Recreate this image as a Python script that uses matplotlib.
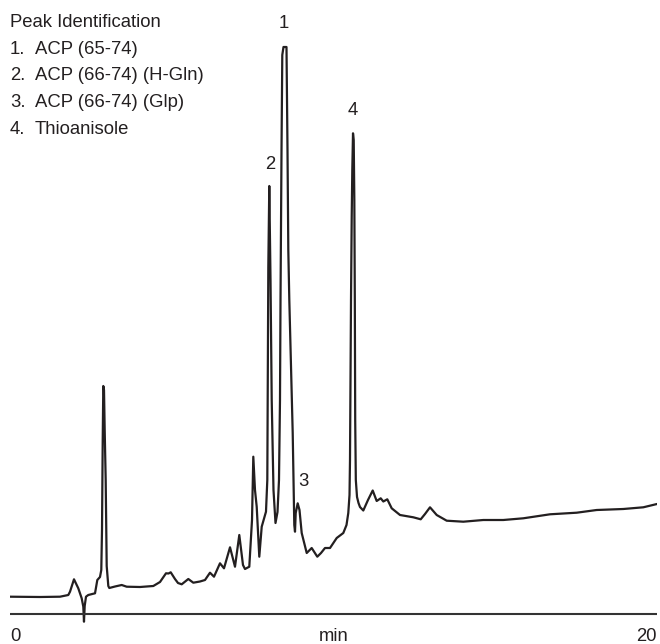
import matplotlib
matplotlib.use("Agg")
import matplotlib.pyplot as plt

# Retention time (min) and detector signal (arbitrary units)
time_min = [0.000, 0.927, 1.546, 1.731, 1.802, 1.855, 1.978, 2.111, 2.216, 2.266,
            2.287, 2.309, 2.349, 2.420, 2.628, 2.699, 2.782, 2.822, 2.844, 2.866,
            2.884, 2.906, 2.927, 2.958, 2.989, 3.039, 3.070, 3.246, 3.453, 3.607,
            4.019, 4.430, 4.637, 4.822, 4.900, 4.968, 5.100, 5.193, 5.308, 5.512,
            5.666, 5.873, 6.028, 6.182, 6.306, 6.491, 6.615, 6.801, 6.955, 7.088,
            7.202, 7.264, 7.397, 7.481, 7.521, 7.573, 7.626, 7.706, 7.781, 7.913,
            7.954, 7.966, 7.985, 8.015, 8.053, 8.090, 8.145, 8.207, 8.269, 8.315,
            8.346, 8.362, 8.393, 8.417, 8.454, 8.547, 8.578, 8.603, 8.634, 8.739,
            8.788, 8.810, 8.832, 8.893, 8.949, 9.017, 9.172, 9.326, 9.499, 9.614,
            9.737, 9.892, 10.099, 10.303, 10.402, 10.457, 10.495, 10.510, 10.526, 10.541,
            10.563, 10.581, 10.603, 10.625, 10.644, 10.659, 10.671, 10.690, 10.727, 10.773,
            10.819, 10.921, 11.066, 11.212, 11.335, 11.459, 11.540, 11.663, 11.799, 12.056,
            12.467, 12.696, 12.829, 12.983, 13.190, 13.499, 14.012, 14.631, 15.249, 15.867,
            16.692, 17.518, 18.136, 18.958, 19.576, 20.000]

signal = [17.3, 17.0, 17.3, 18.5, 19.0, 22.3, 34.7, 25.7, 15.7, 7.3,
          -7.7, 8.0, 17.3, 19.0, 20.7, 34.0, 37.0, 44.0, 84.0, 174.0,
          228.0, 224.0, 184.0, 134.0, 48.0, 28.0, 26.0, 27.5, 29.0, 27.3,
          27.0, 28.0, 32.0, 40.7, 40.5, 41.7, 35.0, 31.0, 29.7, 35.0,
          31.3, 32.5, 34.0, 41.3, 37.3, 50.7, 45.7, 66.7, 47.3, 79.0,
          49.0, 45.0, 47.3, 94.0, 157.3, 124.0, 107.3, 57.3, 87.3, 102.3,
          134.0, 214.0, 347.0, 428.0, 334.0, 214.0, 124.0, 91.0, 102.0, 134.0,
          214.0, 314.0, 464.0, 559.0, 567.0, 567.0, 464.0, 364.0, 314.0, 181.0,
          89.0, 82.3, 101.0, 110.7, 104.0, 81.0, 61.0, 66.0, 57.3, 61.0,
          66.0, 66.0, 76.0, 81.0, 89.0, 101.0, 119.0, 154.0, 234.0, 314.0,
          397.3, 444.0, 480.7, 474.0, 414.0, 314.0, 194.0, 134.0, 117.0, 111.0,
          107.0, 103.5, 114.0, 123.5, 113.0, 115.7, 112.5, 114.7, 105.7, 99.0,
          96.7, 94.7, 100.0, 106.7, 99.0, 93.3, 92.3, 94.0, 94.0, 95.7,
          99.7, 101.3, 104.0, 105.0, 106.7, 110.0]

# Peak labels (number, retention time, label height)
peak_numbers = ["1", "2", "3", "4"]
peak_label_time = [8.454, 8.037, 9.057, 10.587]
peak_label_signal = [586, 445, 128, 499]

legend_title = "Peak Identification"
legend_numbers = ["1.", "2.", "3.", "4."]
legend_names = ["ACP (65-74)", "ACP (66-74) (H-Gln)", "ACP (66-74) (Glp)", "Thioanisole"]

x_start_label = "0"
x_end_label = "20"
x_unit_label = "min"

W, H = 660, 644
ink = "#231f20"
fam = ["Liberation Sans", "DejaVu Sans"]
fs = 13.3

fig = plt.figure(figsize=(W / 100, H / 100), dpi=100)
ax = fig.add_axes([10 / W, 0, 647 / W, 1])
ax.set_xlim(0, 20)
ax.set_ylim(-30, 614)
ax.axis("off")

ax.plot(time_min, signal, color=ink, lw=1.6, solid_joinstyle="round", solid_capstyle="round")
ax.axhline(0, color="#333333", lw=1.5)

for n, t, s in zip(peak_numbers, peak_label_time, peak_label_signal):
    ax.text(t, s, n, ha="center", va="baseline", fontsize=fs, family=fam, color=ink)

ax.text(0, -27, x_start_label, ha="left", va="baseline", fontsize=fs, family=fam, color=ink)
ax.text(20, -27, x_end_label, ha="right", va="baseline", fontsize=fs, family=fam, color=ink)
ax.text(10, -27, x_unit_label, ha="center", va="baseline", fontsize=fs, family=fam, color=ink)

def fx(px):
    return px / W

def fy(py):
    return 1 - py / H

fig.text(fx(10), fy(27), legend_title, ha="left", va="baseline", fontsize=fs, family=fam, color=ink)
row_base = [54, 80.5, 107, 133.5]
for num, name, yb in zip(legend_numbers, legend_names, row_base):
    fig.text(fx(10), fy(yb), num, ha="left", va="baseline", fontsize=fs, family=fam, color=ink)
    fig.text(fx(35), fy(yb), name, ha="left", va="baseline", fontsize=fs, family=fam, color=ink)

fig.savefig("out.png", dpi=100)
